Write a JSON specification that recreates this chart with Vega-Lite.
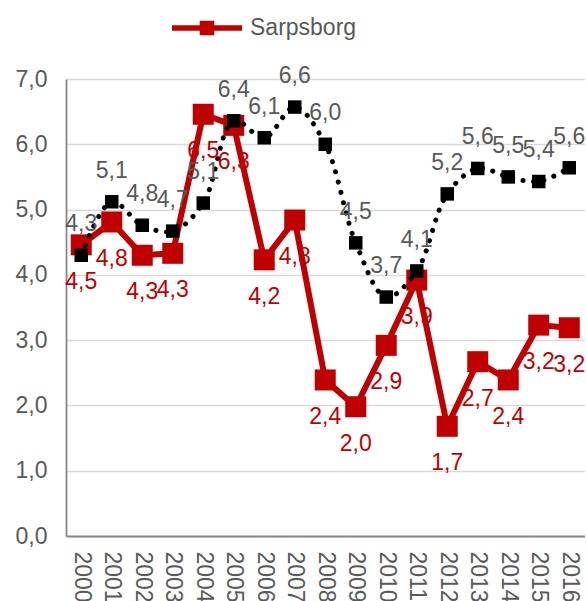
{
  "$schema": "https://vega.github.io/schema/vega-lite/v6.json",
  "width": 518.5,
  "height": 457,
  "autosize": {"type": "none"},
  "padding": {"left": 66, "top": 79, "right": 1.5, "bottom": 65},
  "background": "white",
  "config": {
    "locale": {"number": {"decimal": ",", "thousands": " ", "grouping": [3], "currency": ["", ""]}},
    "view": {"stroke": null},
    "font": "Liberation Sans",
    "axis": {"labelFont": "Liberation Sans", "labelColor": "#595959", "labelFontSize": 23, "ticks": false, "title": null, "domainColor": "#878787", "domainWidth": 1.8, "gridColor": "#D9D9D9", "gridWidth": 1.5}
  },
  "data": {"values": [
    {"year": "2000", "sarpsborg": 4.46, "other": 4.30},
    {"year": "2001", "sarpsborg": 4.81, "other": 5.12},
    {"year": "2002", "sarpsborg": 4.30, "other": 4.76},
    {"year": "2003", "sarpsborg": 4.33, "other": 4.67},
    {"year": "2004", "sarpsborg": 6.46, "other": 5.10},
    {"year": "2005", "sarpsborg": 6.29, "other": 6.36},
    {"year": "2006", "sarpsborg": 4.23, "other": 6.10},
    {"year": "2007", "sarpsborg": 4.84, "other": 6.57},
    {"year": "2008", "sarpsborg": 2.39, "other": 6.00},
    {"year": "2009", "sarpsborg": 1.98, "other": 4.49},
    {"year": "2010", "sarpsborg": 2.92, "other": 3.66},
    {"year": "2011", "sarpsborg": 3.92, "other": 4.06},
    {"year": "2012", "sarpsborg": 1.68, "other": 5.24},
    {"year": "2013", "sarpsborg": 2.67, "other": 5.63},
    {"year": "2014", "sarpsborg": 2.39, "other": 5.50},
    {"year": "2015", "sarpsborg": 3.23, "other": 5.43},
    {"year": "2016", "sarpsborg": 3.19, "other": 5.64}
  ]},
  "encoding": {
    "x": {"field": "year", "type": "ordinal", "scale": {"type": "point", "padding": 0.5},
      "axis": {"labelAngle": 90, "labelAlign": "left", "labelBaseline": "middle", "labelPadding": 15, "labelFontSize": 23, "grid": false}}
  },
  "layer": [
    {
      "mark": {"type": "line", "strokeWidth": 6, "strokeJoin": "round", "strokeCap": "round"},
      "encoding": {
        "y": {"field": "sarpsborg", "type": "quantitative", "scale": {"domain": [0, 7], "nice": false},
          "axis": {"values": [0, 1, 2, 3, 4, 5, 6, 7], "format": ".1f", "labelPadding": 19, "grid": true}},
        "color": {"datum": "Sarpsborg", "type": "nominal", "scale": {"range": ["#C00000"]},
          "legend": {"title": null, "orient": "none", "legendX": 103, "legendY": -89, "padding": 0,
            "symbolType": "M-1,0L1,0M-0.13,-0.13L0.13,-0.13L0.13,0.13L-0.13,0.13ZM-0.05,-0.05L0.05,-0.05L0.05,0.05L-0.05,0.05Z",
            "symbolSize": 4900, "symbolStrokeWidth": 5.5, "symbolStrokeColor": "#C00000", "symbolFillColor": "#C00000",
            "labelFont": "Liberation Sans", "labelFontSize": 23, "labelColor": "#595959", "labelOffset": 5}}
      }
    },
    {
      "mark": {"type": "point", "shape": "square", "filled": true, "size": 441, "color": "#C00000", "opacity": 1},
      "encoding": {"y": {"field": "sarpsborg", "type": "quantitative"}}
    },
    {
      "mark": {"type": "line", "color": "#000000", "strokeWidth": 5, "strokeCap": "round", "strokeDash": [0.1, 10.5], "interpolate": "catmull-rom"},
      "encoding": {"y": {"field": "other", "type": "quantitative"}}
    },
    {
      "mark": {"type": "point", "shape": "square", "filled": true, "size": 182, "color": "#000000", "opacity": 1},
      "encoding": {"y": {"field": "other", "type": "quantitative"}}
    },
    {
      "mark": {"type": "text", "fontSize": 23, "color": "#C00000", "baseline": "middle", "align": "center", "dy": 37},
      "encoding": {"y": {"field": "sarpsborg", "type": "quantitative"}, "text": {"field": "sarpsborg", "type": "quantitative", "format": ".1f"}}
    },
    {
      "mark": {"type": "text", "fontSize": 23, "color": "#595959", "baseline": "middle", "align": "center", "dy": -31},
      "encoding": {"y": {"field": "other", "type": "quantitative"}, "text": {"field": "other", "type": "quantitative", "format": ".1f"}}
    }
  ]
}
